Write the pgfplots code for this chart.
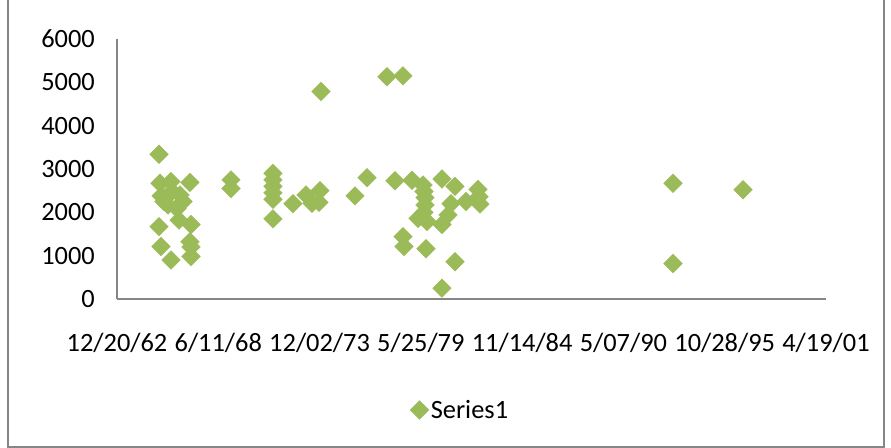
\documentclass[border=0pt]{standalone}
\usepackage{fontspec}
\setmainfont{Carlito}
\usepackage{pgfplots}
\pgfplotsset{compat=1.18}
\definecolor{excelgreen}{HTML}{9BBB59}
\definecolor{axisgray}{HTML}{868686}
\begin{document}
\begin{tikzpicture}
\useasboundingbox (0,0) rectangle (891bp,448bp);
\draw[axisgray, line width=1.2bp] (8bp,0) -- (8bp,448bp);
\draw[axisgray, line width=1.2bp] (8bp,1bp) -- (884bp,1bp) -- (884bp,448bp);
\begin{axis}[
 at={(117bp,149bp)}, anchor=south west,
 scale only axis, width=709bp, height=260bp,
 xmin=23000, xmax=37000, ymin=0, ymax=6000,
 axis x line*=bottom, axis y line*=left,
 axis line style={axisgray, line width=1.6bp},
 xtick={23000,25000,...,37000},
 xticklabels={12/20/62,6/11/68,12/02/73,5/25/79,11/14/84,5/07/90,10/28/95,4/19/01},
 ytick={0,1000,...,6000},
 major tick length=0pt,
 /pgf/number format/assume math mode=true,
 scaled ticks=false,
 yticklabel style={/pgf/number format/fixed, /pgf/number format/1000 sep={}},
 tick label style={font=\fontsize{26.5}{30}\selectfont},
 x tick label style={anchor=base, inner sep=0pt, yshift=-52bp},
 y tick label style={anchor=east, inner sep=0pt, xshift=-22bp},
 clip=false,
 legend style={at={(0.484,-0.427)}, anchor=center, draw=none, fill=none,
   font=\fontsize{26.5}{30}\selectfont},
 legend image code/.code={\draw[#1] plot coordinates {(0.25cm,0cm)};},
]
\addplot[only marks, mark=square*, mark size=6.6pt,
  mark options={rotate=45, fill=excelgreen, draw=excelgreen}] table {
x y
23829 3340
23849 2670
24066 2710
24441 2690
23869 2380
24086 2480
24244 2400
24007 2170
24303 2250
23928 2250
24185 2090
24224 1820
24461 1720
23829 1670
23869 1210
24441 1320
24461 1200
24066 900
24461 980
25251 2750
25251 2550
26080 2900
26080 2750
26080 2600
26080 2450
26080 2300
26080 1850
26475 2200
26732 2400
26851 2210
27008 2500
26989 2230
27028 4790
27699 2380
27937 2800
28331 5130
28647 5150
28489 2730
28825 2740
29043 2630
29417 2770
29674 2600
30128 2530
30168 2190
30148 2360
29891 2250
29082 2340
29082 2170
29062 2000
29062 2480
28944 1860
29121 1790
29417 1720
29536 1940
29595 2200
28647 1440
28667 1210
29102 1160
29674 860
29417 250
33979 2670
33979 820
35361 2520
};
\addlegendentry{Series1}
\end{axis}
\end{tikzpicture}
\end{document}
